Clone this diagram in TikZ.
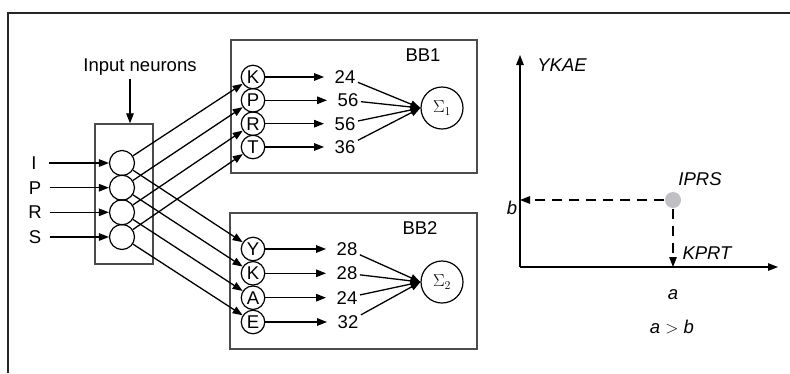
\documentclass[tikz,border=0pt]{standalone}
\usepackage{fontspec}
\setmainfont{Liberation Sans}
\usetikzlibrary{arrows.meta,positioning}

\definecolor{dotgray}{RGB}{192,192,196}
\tikzset{
  arr/.style={-{Triangle[length=10pt,width=7.5pt]}, line width=1.3pt},
  neuron/.style={draw, circle, line width=1.2pt, minimum size=25pt, inner sep=0pt},
  unit/.style={draw, circle, line width=1.2pt, minimum size=23.5pt, inner sep=0pt},
  sumnode/.style={draw, circle, line width=1.2pt, minimum size=42pt, inner sep=0pt},
  blockbox/.style={draw=black!70, line width=1.4pt},
  inlabel/.style={minimum width=28pt, inner sep=0pt},
  weight/.style={inner sep=2pt},
  axislabel/.style={font=\fontsize{18.5}{21}\selectfont\itshape}
}

\begin{document}
\begin{tikzpicture}[x=1pt, y=-1pt, font=\fontsize{18.5}{21}\selectfont, line width=1.3pt]
\useasboundingbox (0,0) rectangle (790,373);
% frame, top and left edges only
\draw[line width=2.4pt, black!85] (8,373) -- (8,13) -- (790,13);

% input layer
\node[blockbox, minimum width=58pt, minimum height=140pt] (inbox) at (124,194) {};
\node (inlbl) at (140,67) {Input neurons};
\draw[arr] ([xshift=-10pt]inlbl.south) -- ([xshift=-10pt]inlbl.south |- inbox.north);
\node[neuron] (i1) at (122,163) {};
\node[neuron] (i2) at (122,187.7) {};
\node[neuron] (i3) at (122,212.3) {};
\node[neuron] (i4) at (122,237) {};
\node[inlabel] (xI) at (34,163) {I};
\node[inlabel] (xP) at (35,187.7) {P};
\node[inlabel] (xR) at (35,212.3) {R};
\node[inlabel] (xS) at (35,237) {S};
\draw[arr] (xI) -- (i1);
\draw[arr] (xP) -- (i2);
\draw[arr] (xR) -- (i3);
\draw[arr] (xS) -- (i4);

% block BB1
\node[blockbox, minimum width=246pt, minimum height=133pt] (bb1) at (354,106.5) {};
\node (bb1lbl) at (423,55) {BB1};
\node[unit] (k1) at (253,77) {K};
\node[unit] (p1) at (253,100.3) {P};
\node[unit] (r1) at (253,123.7) {R};
\node[unit] (t1) at (253,147) {T};
\node[weight] (w11) at (345,77) {24};
\node[weight] (w12) at (348,100.3) {56};
\node[weight] (w13) at (345,123.7) {56};
\node[weight] (w14) at (345,147) {36};
\node[sumnode] (s1) at (442,108) {$\Sigma_1$};
\draw[arr, shorten >=8pt] (k1) -- (w11);
\draw[arr, shorten >=8pt] (p1) -- (w12);
\draw[arr, shorten >=8pt] (r1) -- (w13);
\draw[arr, shorten >=8pt] (t1) -- (w14);
\draw[arr] (w11) -- (s1.west);
\draw[arr] (w12) -- (s1.west);
\draw[arr] (w13) -- (s1.west);
\draw[arr] (w14) -- (s1.west);

% block BB2
\node[blockbox, minimum width=247pt, minimum height=136pt] (bb2) at (353.5,281) {};
\node (bb2lbl) at (420,228) {BB2};
\node[unit] (y2) at (253,249) {Y};
\node[unit] (k2) at (253,273.3) {K};
\node[unit] (a2) at (253,297.7) {A};
\node[unit] (e2) at (253,322) {E};
\node[weight] (w21) at (347,249) {28};
\node[weight] (w22) at (347,273.3) {28};
\node[weight] (w23) at (347,297.7) {24};
\node[weight] (w24) at (348,322) {32};
\node[sumnode] (s2) at (442,282) {$\Sigma_2$};
\draw[arr, shorten >=8pt] (y2) -- (w21);
\draw[arr, shorten >=8pt] (k2) -- (w22);
\draw[arr, shorten >=8pt] (a2) -- (w23);
\draw[arr, shorten >=8pt] (e2) -- (w24);
\draw[arr] (w21) -- (s2.west);
\draw[arr] (w22) -- (s2.west);
\draw[arr] (w23) -- (s2.west);
\draw[arr] (w24) -- (s2.west);

% input neurons to both blocks
\draw[arr] (i1) -- (k1);
\draw[arr] (i2) -- (p1);
\draw[arr] (i3) -- (r1);
\draw[arr] (i4) -- (t1);
\draw[arr] (i1) -- (y2);
\draw[arr] (i2) -- (k2);
\draw[arr] (i3) -- (a2);
\draw[arr] (i4) -- (e2);

% plane
\coordinate (O) at (520,267);
\coordinate (ytop) at (520,55);
\coordinate (xend) at (778,267);
\draw[arr] (O) -- (ytop);
\draw[arr] (O) -- (xend);
\node[axislabel] (ylbl) at (562,65) {YKAE};
\node[circle, fill=dotgray, minimum size=16pt, inner sep=0pt] (dot) at (673,200) {};
\node[axislabel] (dotlbl) at (700,179) {IPRS};
\draw[arr, dash pattern=on 10pt off 7pt] (dot) -- (dot -| O);
\draw[arr, dash pattern=on 10pt off 7pt] (dot) -- (dot |- O);
\node[axislabel] (blbl) at (512,208) {b};
\node[axislabel] (xlbl) at (707,253) {KPRT};
\node[axislabel] (albl) at (673,295) {a};
\node[axislabel] (cmp) at (672,327) {a $>$ b};
\end{tikzpicture}
\end{document}
